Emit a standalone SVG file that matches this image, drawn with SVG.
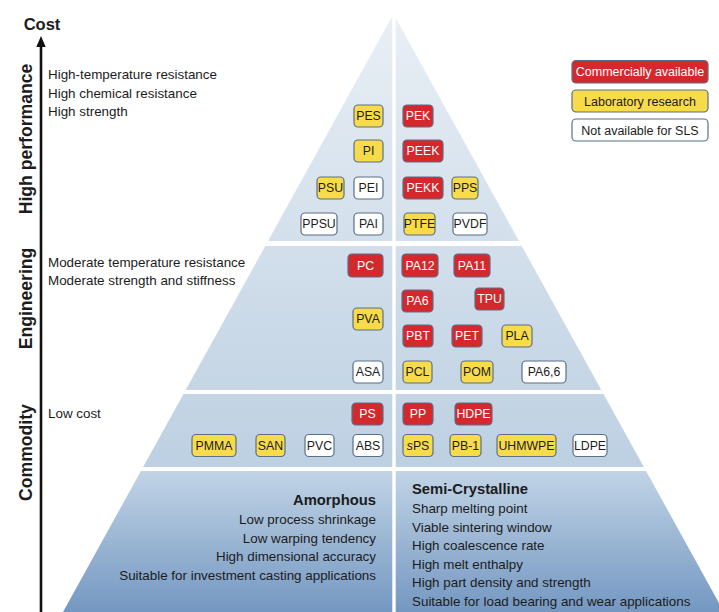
<svg xmlns="http://www.w3.org/2000/svg" width="719" height="612" viewBox="0 0 719 612">
<style>
text{font-family:"Liberation Sans",Arial,sans-serif;fill:#1c1c1c}
.lbl{font-size:13.4px}
.ax{font-size:17.6px;font-weight:bold}
.hd{font-size:14.8px;font-weight:bold}
.n rect{stroke:#5a6f88;stroke-width:1.2}
.n text{font-size:12.3px;text-anchor:middle}
.r rect{fill:#d5282d}
.r text{fill:#fff}
.y rect{fill:#f7db4a}
.w rect{fill:#fff}
.lg text{text-anchor:middle}
</style>
<defs>
<linearGradient id="gTop" gradientUnits="userSpaceOnUse" x1="0" y1="15" x2="0" y2="467">
<stop offset="0" stop-color="#e9eff5"/>
<stop offset="1" stop-color="#bdd0e2"/>
</linearGradient>
<linearGradient id="gBot" gradientUnits="userSpaceOnUse" x1="0" y1="471" x2="0" y2="612">
<stop offset="0" stop-color="#c1d4e6"/>
<stop offset="1" stop-color="#7497c1"/>
</linearGradient>
<clipPath id="tri"><polygon points="393.5,14 63,612 724,612"/></clipPath>
</defs>
<rect width="719" height="612" fill="#fff"/>

<g id="pyramid" clip-path="url(#tri)">
<rect x="0" y="0" width="719" height="469" fill="url(#gTop)"/>
<rect x="0" y="469" width="719" height="143" fill="url(#gBot)"/>
<g stroke="#fff" fill="none">
<line x1="0" y1="243.5" x2="719" y2="243.5" stroke-width="5"/>
<line x1="0" y1="392" x2="719" y2="392" stroke-width="4"/>
<line x1="0" y1="469" x2="719" y2="469" stroke-width="4"/>
<line x1="394" y1="0" x2="394" y2="612" stroke-width="3.4"/>
</g>
</g>

<g id="cost-axis">
<line x1="41" y1="44" x2="41" y2="612" stroke="#111" stroke-width="2.6"/>
<polygon points="41,36 36.3,47 45.7,47" fill="#111"/>
<text x="42" y="30" text-anchor="middle" style="font-size:16.5px;font-weight:bold">Cost</text>
</g>

<g id="tier-labels">
<text class="ax" transform="translate(32,139) rotate(-90)" text-anchor="middle">High performance</text>
<text class="ax" transform="translate(32,298.5) rotate(-90)" text-anchor="middle">Engineering</text>
<text class="ax" transform="translate(32,452.5) rotate(-90)" text-anchor="middle">Commodity</text>
</g>

<g id="tier-properties">
<text class="lbl" x="48" y="78.8">High-temperature resistance</text>
<text class="lbl" x="48" y="97.6">High chemical resistance</text>
<text class="lbl" x="48" y="116.4">High strength</text>
<text class="lbl" x="48" y="266.8">Moderate temperature resistance</text>
<text class="lbl" x="48" y="285.3">Moderate strength and stiffness</text>
<text class="lbl" x="48" y="418.3">Low cost</text>
</g>

<g id="legend" class="lg">
<g id="legend-commercial" class="n r"><rect x="572" y="60.5" width="136" height="22.5" rx="4"/><text x="640" y="76.2" style="font-size:12.5px">Commercially available</text></g>
<g id="legend-lab" class="n y"><rect x="572" y="90" width="136" height="22" rx="4"/><text x="640" y="105.5" style="font-size:12.5px">Laboratory research</text></g>
<g id="legend-na" class="n w"><rect x="572" y="119" width="136" height="22" rx="4"/><text x="640" y="134.5" style="font-size:12.5px">Not available for SLS</text></g>
</g>

<g id="nodes">
<g id="PES" class="n y"><rect x="354" y="105" width="29" height="22" rx="4"/><text x="368.5" y="120.4">PES</text></g>
<g id="PEK" class="n r"><rect x="403" y="105" width="30" height="22" rx="4"/><text x="418" y="120.4">PEK</text></g>
<g id="PI" class="n y"><rect x="354" y="140" width="29" height="22" rx="4"/><text x="368.5" y="155.4">PI</text></g>
<g id="PEEK" class="n r"><rect x="403" y="140" width="40" height="22" rx="4"/><text x="423" y="155.4">PEEK</text></g>
<g id="PSU" class="n y"><rect x="317" y="177" width="27" height="22" rx="4"/><text x="330.5" y="192.4">PSU</text></g>
<g id="PEI" class="n w"><rect x="354" y="177" width="29" height="22" rx="4"/><text x="368.5" y="192.4">PEI</text></g>
<g id="PEKK" class="n r"><rect x="403" y="177" width="40" height="22" rx="4"/><text x="423" y="192.4">PEKK</text></g>
<g id="PPS" class="n y"><rect x="452" y="177" width="26" height="22" rx="4"/><text x="465" y="192.4">PPS</text></g>
<g id="PPSU" class="n w"><rect x="301" y="213" width="36" height="22" rx="4"/><text x="319" y="228.4">PPSU</text></g>
<g id="PAI" class="n w"><rect x="354" y="213" width="29" height="22" rx="4"/><text x="368.5" y="228.4">PAI</text></g>
<g id="PTFE" class="n y"><rect x="404" y="213" width="31" height="22" rx="4"/><text x="419.5" y="228.4">PTFE</text></g>
<g id="PVDF" class="n w"><rect x="453" y="213" width="34" height="22" rx="4"/><text x="470" y="228.4">PVDF</text></g>

<g id="PC" class="n r"><rect x="348" y="254" width="35" height="23" rx="4"/><text x="365.5" y="269.9">PC</text></g>
<g id="PA12" class="n r"><rect x="402" y="254" width="36" height="23" rx="4"/><text x="420" y="269.9">PA12</text></g>
<g id="PA11" class="n r"><rect x="454" y="254" width="36" height="23" rx="4"/><text x="472" y="269.9">PA11</text></g>
<g id="PA6" class="n r"><rect x="402" y="290" width="31" height="22" rx="4"/><text x="417.5" y="305.4">PA6</text></g>
<g id="TPU" class="n r"><rect x="475" y="288" width="29" height="22" rx="4"/><text x="489.5" y="303.4">TPU</text></g>
<g id="PVA" class="n y"><rect x="353" y="308" width="30" height="22" rx="4"/><text x="368" y="323.4">PVA</text></g>
<g id="PBT" class="n r"><rect x="403" y="325" width="30" height="22" rx="4"/><text x="418" y="340.4">PBT</text></g>
<g id="PET" class="n r"><rect x="452" y="325" width="30" height="22" rx="4"/><text x="467" y="340.4">PET</text></g>
<g id="PLA" class="n y"><rect x="502" y="325" width="30" height="22" rx="4"/><text x="517" y="340.4">PLA</text></g>
<g id="ASA" class="n w"><rect x="353" y="361" width="30" height="22" rx="4"/><text x="368" y="376.4">ASA</text></g>
<g id="PCL" class="n y"><rect x="403" y="361" width="29" height="22" rx="4"/><text x="417.5" y="376.4">PCL</text></g>
<g id="POM" class="n y"><rect x="461" y="361" width="32" height="22" rx="4"/><text x="477" y="376.4">POM</text></g>
<g id="PA66" class="n w"><rect x="522" y="361" width="44" height="22" rx="4"/><text x="544" y="376.4">PA6,6</text></g>

<g id="PS" class="n r"><rect x="352" y="403" width="31" height="22" rx="4"/><text x="367.5" y="418.4">PS</text></g>
<g id="PP" class="n r"><rect x="403" y="403" width="30" height="22" rx="4"/><text x="418" y="418.4">PP</text></g>
<g id="HDPE" class="n r"><rect x="455" y="403" width="37" height="22" rx="4"/><text x="473.5" y="418.4">HDPE</text></g>
<g id="PMMA" class="n y"><rect x="192" y="434.5" width="44" height="22" rx="4"/><text x="214" y="449.9">PMMA</text></g>
<g id="SAN" class="n y"><rect x="256" y="434.5" width="29" height="22" rx="4"/><text x="270.5" y="449.9">SAN</text></g>
<g id="PVC" class="n w"><rect x="305" y="434.5" width="29" height="22" rx="4"/><text x="319.5" y="449.9">PVC</text></g>
<g id="ABS" class="n w"><rect x="353" y="434.5" width="30" height="22" rx="4"/><text x="368" y="449.9">ABS</text></g>
<g id="sPS" class="n y"><rect x="403" y="434.5" width="30" height="22" rx="4"/><text x="418" y="449.9"><tspan font-style="italic">s</tspan>PS</text></g>
<g id="PB-1" class="n y"><rect x="450" y="434.5" width="31" height="22" rx="4"/><text x="465.5" y="449.9">PB-1</text></g>
<g id="UHMWPE" class="n y"><rect x="497" y="434.5" width="59" height="22" rx="4"/><text x="526.5" y="449.9">UHMWPE</text></g>
<g id="LDPE" class="n w"><rect x="573" y="434.5" width="34" height="22" rx="4"/><text x="590" y="449.9">LDPE</text></g>
</g>

<g id="amorphous" text-anchor="end">
<text class="hd" x="376" y="505">Amorphous</text>
<text class="lbl" x="376" y="524">Low process shrinkage</text>
<text class="lbl" x="376" y="542.7">Low warping tendency</text>
<text class="lbl" x="376" y="561.4">High dimensional accuracy</text>
<text class="lbl" x="376" y="580">Suitable for investment casting applications</text>
</g>

<g id="semi-crystalline">
<text class="hd" x="412" y="493.5">Semi-Crystalline</text>
<text class="lbl" x="412" y="513.2">Sharp melting point</text>
<text class="lbl" x="412" y="531.7">Viable sintering window</text>
<text class="lbl" x="412" y="550.2">High coalescence rate</text>
<text class="lbl" x="412" y="568.7">High melt enthalpy</text>
<text class="lbl" x="412" y="587.2">High part density and strength</text>
<text class="lbl" x="412" y="605.7">Suitable for load bearing and wear applications</text>
</g>
</svg>
